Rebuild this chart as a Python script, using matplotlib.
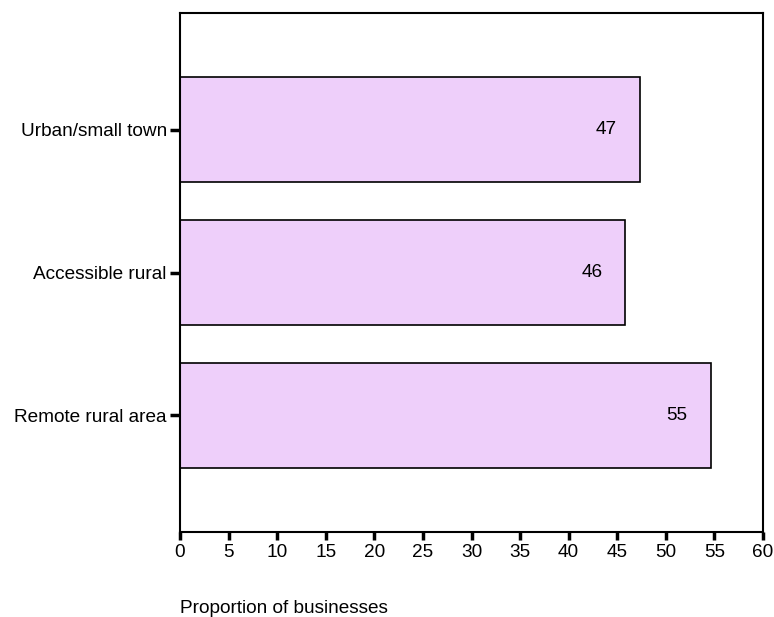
import matplotlib
matplotlib.use("Agg")
import matplotlib.pyplot as plt

# values (top to bottom)
categories = ["Urban/small town", "Accessible rural", "Remote rural area"]
values = [47.3, 45.8, 54.6]
labels = ["47", "46", "55"]
x_ticks = list(range(0, 61, 5))

plt.rcParams['font.family'] = ['Liberation Sans', 'DejaVu Sans']
fs = 13.7

fig = plt.figure(figsize=(7.74, 6.17), dpi=100)
ax = fig.add_axes([180/774, 1 - 532/617, 583/774, 519/617])

ypos = list(range(len(categories)))
ax.barh(ypos, values, height=0.735, color="#eecffa", edgecolor="black", linewidth=1.2)

for y, v, lab in zip(ypos, values, labels):
    ax.annotate(lab, xy=(v, y), xytext=(-24, 0), textcoords="offset points",
                ha="center", va="center", fontsize=fs)

ax.set_xlim(0, 60)
ax.set_ylim(2.815, -0.815)
ax.set_xticks(x_ticks)
ax.set_yticks(ypos)
ax.set_yticklabels(categories, fontsize=fs)
ax.tick_params(axis="x", labelsize=fs, length=6, width=2.5, pad=2.5)
ax.tick_params(axis="y", length=7, width=2.5, pad=2.5)
for s in ax.spines.values():
    s.set_linewidth(1.5)

fig.text(180/774, 1 - 613/617, "Proportion of businesses", fontsize=fs,
         ha="left", va="baseline")

fig.savefig("out.png", dpi=100)
